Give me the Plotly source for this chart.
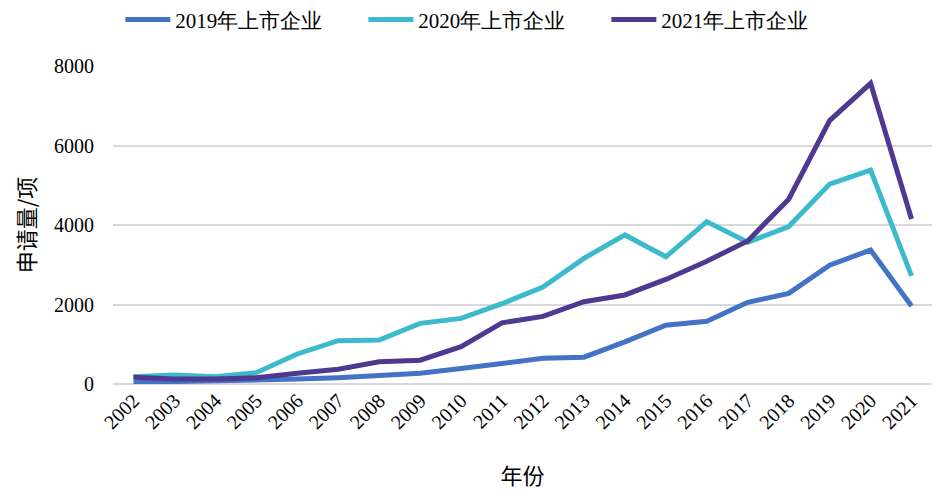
import plotly.graph_objects as go

years = [str(y) for y in range(2002, 2022)]
listed_2019 = [40, 60, 60, 90, 125, 160, 225, 270, 390, 530, 645, 675, 1060, 1480, 1580, 2055, 2280, 2990, 3370, 1960]
listed_2020 = [185, 225, 185, 285, 755, 1090, 1105, 1525, 1650, 2020, 2440, 3160, 3750, 3200, 4085, 3565, 3960, 5030, 5380, 2720]
listed_2021 = [170, 125, 125, 160, 270, 370, 560, 600, 940, 1540, 1700, 2070, 2240, 2630, 3090, 3600, 4650, 6625, 7565, 4150]

series_names = ["2019年上市企业", "2020年上市企业", "2021年上市企业"]
colors = ["#4472C4", "#3BBACB", "#4E3890"]

fig = go.Figure()
for name, vals, c in zip(series_names, [listed_2019, listed_2020, listed_2021], colors):
    fig.add_trace(go.Scatter(x=years, y=vals, mode="lines", name=name,
                             line=dict(color=c, width=5)))

cjk = "Noto Sans CJK SC"
serif = "Liberation Serif"
fig.update_layout(
    width=942, height=490,
    paper_bgcolor="white", plot_bgcolor="white",
    margin=dict(l=105, r=18, t=58, b=114, autoexpand=False),
    font=dict(family=serif, color="#000000", size=18),
    legend=dict(orientation="h", x=0.009, xanchor="left", y=1.145, yanchor="middle",
                font=dict(size=21, family=serif), itemwidth=45, entrywidth=183,
                tracegroupgap=0),
    showlegend=True,
)
fig.update_xaxes(type="category", range=[-0.5, 19.5], tickangle=-45, showgrid=False,
                 showline=False, ticks="", tickfont=dict(size=20, family=serif),
                 title=dict(text="年份", font=dict(size=22, family=cjk), standoff=36))
fig.update_yaxes(range=[0, 8000], tickvals=[0, 2000, 4000, 6000, 8000], showgrid=True,
                 gridcolor="#D9D9D9", gridwidth=1.5, zeroline=True, zerolinecolor="#D9D9D9",
                 zerolinewidth=1.5, showline=False, ticks="", ticklabelstandoff=18,
                 tickfont=dict(size=20, family=serif),
                 title=dict(text="申请量/项", font=dict(size=22, family=cjk), standoff=12))

fig.write_html("out.html")
